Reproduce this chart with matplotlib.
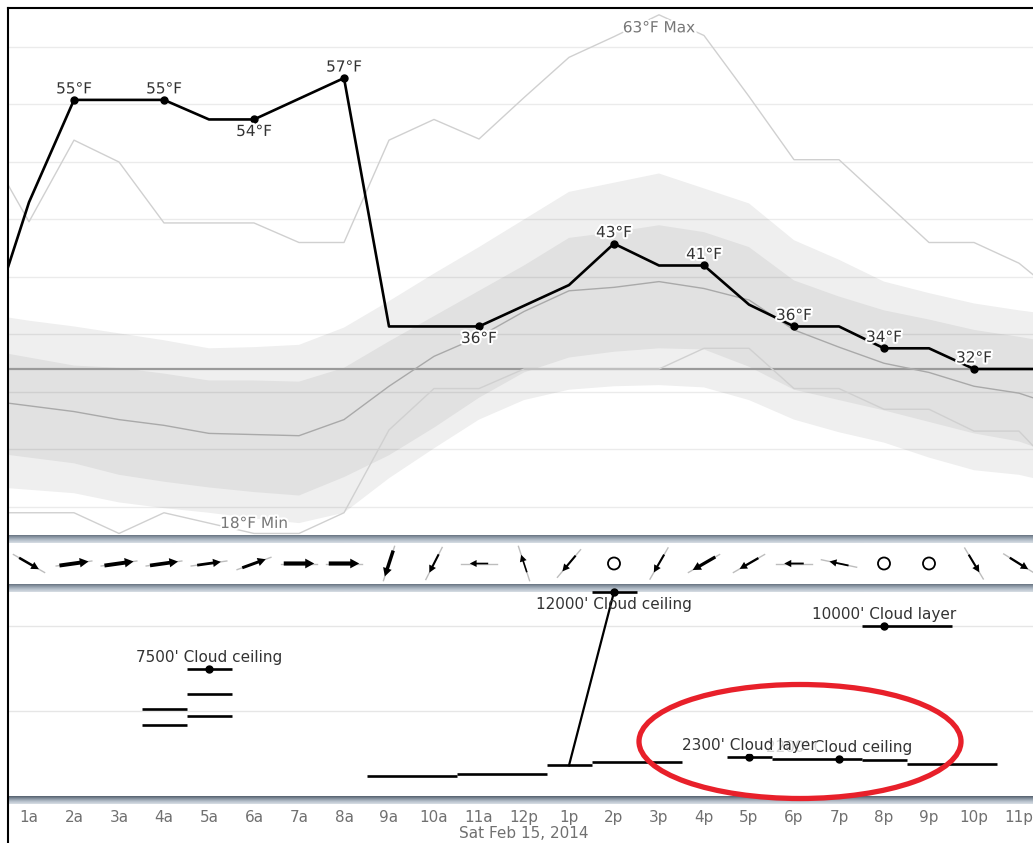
import numpy as np
import matplotlib
matplotlib.use("Agg")
import matplotlib.pyplot as plt
import matplotlib.patheffects as pe
from matplotlib.patches import Ellipse
from matplotlib.lines import Line2D
from matplotlib.colors import LinearSegmentedColormap

W, H = 1033, 843

# ---- temperature data (deg F), one value per hour 0..24 ----
hours = list(range(0, 25))
temp = [34.4, 46.5, 55.4, 55.4, 55.4, 53.7, 53.7, 55.5, 57.3, 35.7, 35.7, 35.7, 37.5,
        39.3, 42.9, 41.0, 41.0, 37.6, 35.7, 35.7, 33.8, 33.8, 32.0, 32.0, 32.0]
temp_max = [51.7, 44.8, 51.9, 50.0, 44.7, 44.7, 44.7, 43.0, 43.0, 51.9, 53.7, 52.0, 55.6,
            59.1, 60.9, 62.8, 61.0, 55.7, 50.2, 50.2, 46.6, 43.0, 43.0, 41.2, 38.0]
temp_min = [19.5, 19.5, 19.5, 17.7, 19.5, 18.6, 17.7, 17.7, 19.5, 26.7, 30.3, 30.3, 32.0,
            32.0, 32.0, 32.0, 33.8, 33.8, 30.3, 30.3, 28.5, 28.5, 26.6, 26.6, 22.5]
temp_med = [29.3, 28.8, 28.3, 27.6, 27.1, 26.4, 26.3, 26.2, 27.6, 30.5, 33.1, 34.8, 37.0,
            38.8, 39.1, 39.6, 39.0, 38.0, 35.4, 33.9, 32.5, 31.7, 30.5, 29.9, 28.6]
outer_hi = [36.8, 36.2, 35.7, 35.1, 34.5, 33.8, 33.9, 34.1, 35.6, 37.9, 40.3, 42.6, 45.0,
            47.4, 48.2, 49.0, 47.7, 46.4, 43.2, 41.5, 39.6, 38.6, 37.7, 37.1, 36.6]
inner_hi = [33.7, 33.0, 32.3, 32.1, 31.6, 31.0, 31.0, 30.9, 32.1, 34.4, 36.6, 38.8, 41.0,
            43.4, 43.9, 44.5, 43.9, 42.6, 39.7, 38.3, 37.1, 36.3, 35.4, 34.8, 34.1]
inner_lo = [24.8, 24.3, 23.8, 22.8, 22.2, 21.7, 21.3, 21.0, 22.6, 24.5, 26.9, 29.5, 31.7,
            33.0, 33.5, 33.8, 33.7, 32.2, 30.2, 29.3, 28.4, 27.4, 26.4, 25.7, 24.3]
outer_lo = [21.8, 21.5, 21.2, 20.4, 19.9, 19.5, 19.0, 18.6, 19.5, 22.5, 25.1, 27.6, 29.3,
            30.2, 30.5, 30.6, 30.4, 29.3, 27.6, 26.5, 25.6, 24.3, 23.2, 22.8, 21.9]
label_hours = [2, 4, 6, 8, 11, 14, 16, 18, 20, 22]
label_below = [False, False, True, False, True, False, False, False, False, False]
max_hour, min_hour = 15, 6

# ---- wind (direction the arrow points, degrees ccw from east; speed) ----
wind_hours = list(range(1, 24))
wind_dir = [-30, 8, 8, 8, 8, 20, 0, 0, -108, -117, 180, 108, -130, np.nan, -120, -150,
            -150, 180, 168, np.nan, np.nan, -59, -32]
wind_speed = [8, 14, 14, 13, 9, 10, 15, 15, 12, 6, 4, 4, 6, 0, 6, 11, 7, 5, 5, 0, 0, 6, 7]

# ---- clouds (feet) ----
cloud_start = [3.5, 3.5, 4.5, 4.5, 4.5, 8.5, 10.5, 12.5, 13.5, 13.5, 16.5, 17.5, 19.5, 20.5, 19.5]
cloud_end = [4.5, 4.5, 5.5, 5.5, 5.5, 10.5, 12.5, 13.5, 14.5, 15.5, 17.5, 19.5, 20.5, 22.5, 21.5]
cloud_ft = [5100, 4200, 7500, 6000, 4700, 1200, 1300, 1800, 12000, 2000, 2300, 2200, 2100, 1900, 10000]
ceiling_hours = [13, 14]
ceiling_ft = [1800, 12000]
cloud_label_hours = [5, 14, 17, 19, 20]
cloud_label_ft = [7500, 12000, 2300, 2200, 10000]
cloud_label_kind = ["Cloud ceiling", "Cloud ceiling", "Cloud layer", "Cloud ceiling", "Cloud layer"]

tick_hours = list(range(1, 24))
tick_labels = ["1a", "2a", "3a", "4a", "5a", "6a", "7a", "8a", "9a", "10a", "11a", "12p",
               "1p", "2p", "3p", "4p", "5p", "6p", "7p", "8p", "9p", "10p", "11p"]

XMIN, XMAX = 24 / 45, 1049 / 45
FS = 11


def px_axes(top, bottom, left=8, right=W):
    return fig.add_axes([left / W, 1 - bottom / H, (right - left) / W, (bottom - top) / H])


def separator(top):
    a = px_axes(top, top + 8)
    cmap = LinearSegmentedColormap.from_list("sep", ["#5c6875", "#8a96a3", "#b4bfca", "#d2d9e0"])
    a.imshow(np.linspace(0, 1, 8).reshape(-1, 1), aspect="auto", cmap=cmap)
    a.axis("off")


halo = [pe.withStroke(linewidth=3, foreground="white")]

fig = plt.figure(figsize=(W / 100, H / 100), dpi=100)

# ---------------- temperature panel ----------------
ax = px_axes(8, 535)
ax.set_xlim(XMIN, XMAX)
ax.set_ylim(35 - 200.5 / 11.5, 35 + 326.5 / 11.5)
ax.fill_between(hours, outer_lo, outer_hi, color="#efefef", lw=0, zorder=1)
ax.fill_between(hours, inner_lo, inner_hi, color="#e1e1e1", lw=0, zorder=2)
for g in range(20, 65, 5):
    ax.axhline(g, color="black", alpha=0.08, lw=1, zorder=3)
ax.axhline(32, color="#9a9a9a", lw=1.6, zorder=4)
ax.plot(hours, temp_max, color="#d0d0d0", lw=1, zorder=5)
ax.plot(hours, temp_min, color="#d0d0d0", lw=1, zorder=5)
ax.plot(hours, temp_med, color="#a9a9a9", lw=1, zorder=5)
ax.plot(hours, temp, color="black", lw=1.9, zorder=6)
lx = [hours[h] for h in label_hours]
ly = [temp[h] for h in label_hours]
ax.plot(lx, ly, "o", color="black", ms=5, zorder=7)
for h, below in zip(label_hours, label_below):
    ax.annotate(f"{round(temp[h])}°F", (h, temp[h]), xytext=(0, -12 if below else 11),
                textcoords="offset pixels", ha="center", va="center", fontsize=FS,
                color="#333333", path_effects=halo, zorder=8)
ax.annotate(f"{round(temp_max[max_hour])}°F Max", (max_hour, temp_max[max_hour]),
            xytext=(0, -13), textcoords="offset pixels", ha="center", va="center",
            fontsize=FS, color="#777777", path_effects=halo, zorder=8)
ax.annotate(f"{round(temp_min[min_hour])}°F Min", (min_hour, temp_min[min_hour]),
            xytext=(0, 10), textcoords="offset pixels", ha="center", va="center",
            fontsize=FS, color="#777777", path_effects=halo, zorder=8)
ax.axis("off")

separator(535)

# ---------------- wind panel ----------------
aw = px_axes(543, 584)
aw.set_xlim(XMIN, XMAX)
aw.set_ylim(-20.5 / 45, 20.5 / 45)
for h, d, s in zip(wind_hours, wind_dir, wind_speed):
    if np.isnan(d):
        aw.scatter([h], [0], s=75, facecolors="none", edgecolors="black", linewidths=1.3)
        continue
    c, sn = np.cos(np.radians(d)), np.sin(np.radians(d))
    g = 18 / 45
    aw.plot([h - g * c, h + g * c], [-g * sn, g * sn], color="#bdbdbd", lw=1)
    L = (14 + 1.1 * s) / 45
    aw.arrow(h - L / 2 * c, -L / 2 * sn, L * c, L * sn, width=(0.7 + 0.23 * s) / 45,
             head_width=(6 + 0.25 * s) / 45, head_length=(6 + 0.2 * s) / 45,
             length_includes_head=True, color="black", lw=0, zorder=3)
aw.axis("off")

separator(584)

# ---------------- cloud panel ----------------
ac = px_axes(592, 796)
ac.set_xlim(XMIN, XMAX)
ac.set_ylim(0, 12000)
for g in (5000, 10000):
    ac.axhline(g, color="#e6e6e6", lw=1, zorder=1)
ac.hlines(cloud_ft, cloud_start, cloud_end, color="black", lw=1.9, zorder=3, clip_on=False)
ac.plot(ceiling_hours, ceiling_ft, color="black", lw=1.6, zorder=3, clip_on=False)
ac.plot(cloud_label_hours, cloud_label_ft, "o", color="black", ms=5, zorder=4, clip_on=False)
for h, f, k in zip(cloud_label_hours, cloud_label_ft, cloud_label_kind):
    below = f >= 12000
    txt = f"{f}' {k}"
    if h == 19:
        # this label sits under the neighbouring one, as in the source chart
        ac.annotate(txt, (h, f), xytext=(0, 11), textcoords="offset pixels", ha="center",
                    va="center", fontsize=FS, color="#333333", zorder=5)
    else:
        ac.annotate(txt, (h, f), xytext=(0, -12 if below else 11), textcoords="offset pixels",
                    ha="center", va="center", fontsize=FS, color="#333333", zorder=6,
                    bbox=dict(boxstyle="square,pad=0.05", fc="white", ec="none",
                              alpha=0.8 if h == 17 else 0))
ac.set_xticks(tick_hours)
ac.set_xticklabels(tick_labels)
ac.tick_params(axis="x", length=0, pad=10, labelsize=FS, labelcolor="#707070")
ac.set_yticks([])
for s in ac.spines.values():
    s.set_visible(False)
ac.annotate("Sat Feb 15, 2014", (12, 0), xycoords=("data", "axes fraction"),
            xytext=(0, -38), textcoords="offset pixels", ha="center", va="center",
            fontsize=FS, color="#707070", annotation_clip=False)

separator(796)

# borders
fig.add_artist(Line2D([8 / W, 8 / W], [0, 1 - 8 / H], color="black", lw=1.5))
fig.add_artist(Line2D([8 / W, 1], [1 - 8 / H, 1 - 8 / H], color="black", lw=1.5))

# red highlight ellipse
fig.add_artist(Ellipse((800 / W, 1 - 741.5 / H), 322 / W, 114 / H, transform=fig.transFigure,
                       fill=False, edgecolor="#e8202a", lw=3.8, zorder=20))

fig.savefig("out.png", dpi=100)
